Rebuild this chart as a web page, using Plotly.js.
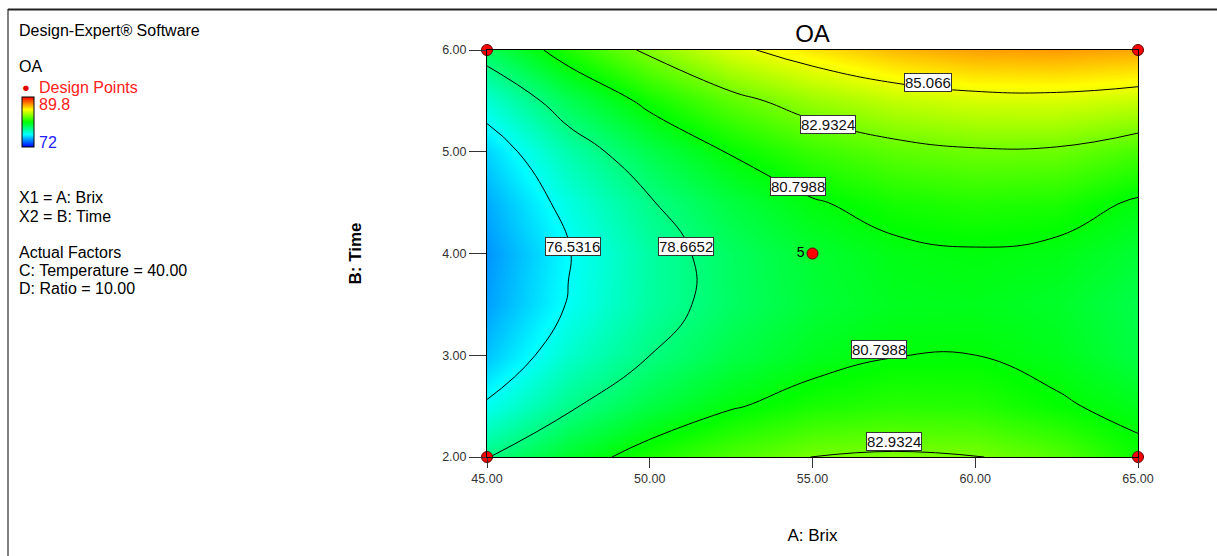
<!DOCTYPE html>
<html><head><meta charset="utf-8">
<script src="https://cdn.plot.ly/plotly-3.0.1.min.js"></script>
<style>html,body{margin:0;padding:0;background:#fff}#chart{width:1217px;height:556px}</style>
</head><body><div id="chart"></div>
<script>
// Factor levels (grid)
const brix = [45, 47.5, 50, 52.5, 55, 57.5, 60, 62.5, 65];
const time = [2, 2.5, 3, 3.5, 4, 4.5, 5, 5.5, 6];
// Estimated OA response (rows = time, cols = brix)
const oaT2   = [78.61, 80.15, 81.36, 82.23, 82.95, 83.10, 83.00, 82.39, 81.10];
const oaT2_5 = [76.70, 78.47, 79.74, 80.69, 81.30, 81.58, 81.52, 80.95, 80.45];
const oaT3   = [75.40, 77.31, 78.66, 79.67, 80.36, 80.76, 80.80, 80.45, 79.75];
const oaT3_5 = [74.80, 76.60, 78.10, 79.19, 79.94, 80.36, 80.44, 80.20, 79.62];
const oaT4   = [74.60, 76.45, 78.07, 79.23, 80.05, 80.54, 80.70, 80.52, 80.01];
const oaT4_5 = [75.00, 76.95, 78.56, 79.79, 80.69, 81.25, 81.48, 81.37, 80.65];
const oaT5   = [75.70, 77.90, 79.59, 80.89, 81.86, 82.49, 82.79, 82.75, 82.10];
const oaT5_5 = [77.20, 79.43, 81.14, 82.51, 83.55, 84.25, 84.62, 84.66, 84.37];
const oaT6   = [79.33, 81.44, 83.22, 84.75, 85.77, 86.55, 86.99, 87.10, 86.87];
const contourLevels = [76.5316, 78.6652, 80.7988, 82.9324, 85.066];
const labelLevels = [76.5316, 78.6652, 80.7988, 80.7988, 82.9324, 82.9324, 85.066];
const labelBrix = [47.65, 51.12, 54.54, 57.03, 55.49, 57.49, 58.54];
const labelTime = [4.07, 4.07, 4.66, 3.06, 5.27, 2.15, 5.68];
const designBrix = [45, 45, 65, 65, 55];
const designTime = [2, 6, 2, 6, 4];
const designText = ['', '', '', '', '5'];
const xTicks = [45, 50, 55, 60, 65];
const yTicks = [2, 3, 4, 5, 6];
const colorMin = 72, colorMax = 89.8;

const oa = [oaT2, oaT2_5, oaT3, oaT3_5, oaT4, oaT4_5, oaT5, oaT5_5, oaT6];

const L = 487, T = 50, W = 651, H = 407;
const px = p => (p - L) / W;
const py = p => (T + H - p) / H;
const FONT = 'Liberation Sans, Arial, sans-serif';
const cscale = [[0,'#0000ff'],[0.25,'#00ffff'],[0.5,'#00ff00'],[0.75,'#ffff00'],[1,'#ff0000']];

const traces = [
  {type:'heatmap', x:brix, y:time, z:oa, zsmooth:'best', zmin:colorMin, zmax:colorMax,
   colorscale:cscale, hoverinfo:'skip', showscale:true,
   colorbar:{x:px(22), xanchor:'left', y:py(122), yanchor:'middle', thickness:12, thicknessmode:'pixels',
     len:50, lenmode:'pixels', xpad:0, ypad:0, outlinewidth:1, outlinecolor:'#000',
     showticklabels:false, ticks:''}},
  {type:'contour', x:brix, y:time, z:oa, autocontour:false,
   contours:{start:contourLevels[0], end:contourLevels[contourLevels.length-1],
     size:contourLevels[1]-contourLevels[0], coloring:'none', showlabels:false},
   line:{color:'#000', width:1, smoothing:1.3}, showscale:false, hoverinfo:'skip'},
  {type:'scatter', mode:'markers+text', x:designBrix, y:designTime, text:designText,
   textposition:'middle left', textfont:{family:FONT, size:14, color:'#000'},
   marker:{size:11, color:'#ff0000', line:{color:'#600000', width:1}}, cliponaxis:false, showlegend:false}
];

const ann = [];
labelLevels.forEach((v, i) => ann.push({x:labelBrix[i], y:labelTime[i], xref:'x', yref:'y', text:String(v),
  showarrow:false, bgcolor:'#fff', bordercolor:'#333', borderwidth:1, borderpad:0,
  font:{family:FONT, size:15, color:'#111'}}));
const left = (text, y, opts) => ann.push(Object.assign({x:px(17), y:py(y), xref:'paper', yref:'paper', text:text,
  showarrow:false, xanchor:'left', yanchor:'middle', font:{family:FONT, size:16, color:'#000'}}, opts || {}));
left('Design-Expert® Software', 31);
left('OA', 67);
ann.push({x:px(26), y:py(87), xref:'paper', yref:'paper', text:'●', showarrow:false, xanchor:'center', yanchor:'middle',
  font:{family:FONT, size:13, color:'#e00000'}});
left('Design Points', 87, {x:px(37), font:{family:FONT, size:16, color:'#ff2020'}});
left(String(colorMax), 105, {x:px(37), font:{family:FONT, size:16, color:'#ff2020'}});
left(String(colorMin), 142, {x:px(37), font:{family:FONT, size:16, color:'#2020ff'}});
left('X1 = A: Brix', 197);
left('X2 = B: Time', 216);
left('Actual Factors', 252);
left('C: Temperature = 40.00', 270);
left('D: Ratio = 10.00', 288);

const layout = {
  width:1217, height:556, margin:{l:L, r:1217-L-W, t:T, b:556-T-H},
  paper_bgcolor:'#fff', plot_bgcolor:'#fff', showlegend:false,
  font:{family:FONT},
  title:{text:'OA', font:{family:FONT, size:24, color:'#000'}, x:0.5, xref:'paper', y:1-34/556, yref:'container', yanchor:'middle'},
  xaxis:{range:[45,65], tickvals:xTicks, ticktext:xTicks.map(v=>v.toFixed(2)), ticks:'outside', ticklen:10,
    tickcolor:'#333', tickwidth:1, tickfont:{family:FONT, size:12.5, color:'#333'}, showline:true, linecolor:'#000',
    linewidth:1, mirror:true, showgrid:false, zeroline:false,
    title:{text:'A: Brix', font:{family:FONT, size:17, color:'#000'}, standoff:44}},
  yaxis:{range:[2,6], tickvals:yTicks, ticktext:yTicks.map(v=>v.toFixed(2)), ticks:'outside', ticklen:17,
    tickcolor:'#333', tickwidth:1, tickfont:{family:FONT, size:12.5, color:'#333'}, showline:true, linecolor:'#000',
    linewidth:1, mirror:true, showgrid:false, zeroline:false,
    title:{text:'<b>B: Time</b>', font:{family:FONT, size:17, color:'#000'}, standoff:76}},
  annotations:ann,
  shapes:[
    {type:'line', xref:'paper', yref:'paper', x0:px(8), x1:px(8), y0:py(9), y1:py(560), line:{color:'#808080', width:2}},
    {type:'line', xref:'paper', yref:'paper', x0:px(8), x1:px(1220), y0:py(9.5), y1:py(9.5), line:{color:'#222', width:2}}
  ]
};
Plotly.newPlot('chart', traces, layout, {displayModeBar:false, staticPlot:true});
</script></body></html>
